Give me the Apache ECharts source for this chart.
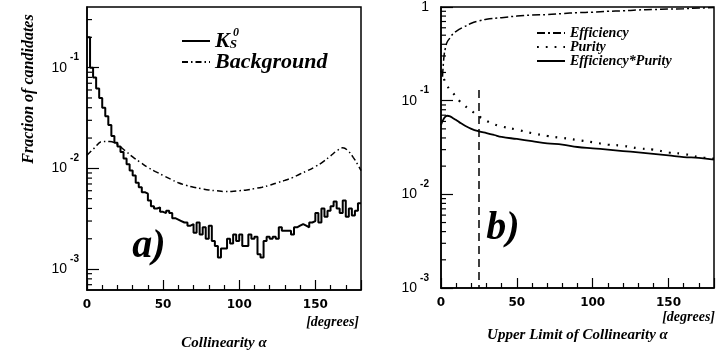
<!DOCTYPE html>
<html>
<head>
<meta charset="utf-8">
<script src="https://cdn.jsdelivr.net/npm/echarts@6/dist/echarts.min.js"></script>
<style>
  html, body { margin: 0; padding: 0; background: #fff; }
  #main { width: 723px; height: 357px; }
</style>
</head>
<body>
<div id="main"></div>
<script>
// panel a) K0S histogram, 2 degree bins starting at 0
var binWidth = 2
var kBins = [
    0.20, 0.10, 0.080, 0.062, 0.050, 0.040, 0.033, 0.027, 0.021, 0.018,
    0.0165, 0.0145, 0.0125, 0.011, 0.0095, 0.0085, 0.0072, 0.0065, 0.0058, 0.0056,
    0.0048, 0.0042, 0.0040, 0.0041, 0.0037, 0.0036, 0.0038, 0.0036, 0.0032, 0.0031,
    0.0030, 0.0029, 0.0029, 0.0027, 0.0028, 0.0023, 0.0029, 0.0022, 0.0026, 0.0020,
    0.0027, 0.0019, 0.0017, 0.0013, 0.0016, 0.0016, 0.0020, 0.0018, 0.0022, 0.0019,
    0.0022, 0.0017, 0.0017, 0.0022, 0.0020, 0.0021, 0.0014, 0.0013, 0.0019, 0.0021,
    0.0020, 0.0021, 0.0020, 0.0026, 0.0024, 0.0024, 0.0024, 0.0022, 0.0026, 0.0027,
    0.0028, 0.0027, 0.0026, 0.0029, 0.0030, 0.0036, 0.0029, 0.0040, 0.0033, 0.0038,
    0.0042, 0.0047, 0.0040, 0.0036, 0.0048, 0.0033, 0.0040, 0.0034, 0.0038, 0.0045
]

// panel a) background, smooth curve
var bgAngles = [0, 5, 10, 15, 20, 25, 30, 35, 40, 45, 50, 55, 60, 65, 70, 75, 80, 85, 90,
    95, 100, 105, 110, 115, 120, 125, 130, 135, 140, 145, 150, 155, 160, 165, 168, 171, 175, 178, 180]
var bgValues = [0.0135, 0.016, 0.0185, 0.0185, 0.0172, 0.0150, 0.0130, 0.0115, 0.0102, 0.0093,
    0.0085, 0.0078, 0.0072, 0.0068, 0.0065, 0.0063, 0.0061, 0.0060, 0.0059,
    0.0059, 0.0060, 0.0061, 0.0063, 0.0065, 0.0068, 0.0072, 0.0076, 0.0081, 0.0088,
    0.0095, 0.0104, 0.0116, 0.0133, 0.0153, 0.0160, 0.0152, 0.0128, 0.0108, 0.0095]

// panel b)
var effAngles = [1, 2, 3, 4, 6, 8, 10, 14, 20, 25, 30, 40, 50, 60, 70, 80, 90, 100, 110, 120, 130, 140, 150, 160, 170, 180]
var effValues = [0.18, 0.30, 0.37, 0.42, 0.47, 0.52, 0.55, 0.60, 0.67, 0.71, 0.74, 0.77, 0.80, 0.82,
    0.83, 0.85, 0.87, 0.88, 0.90, 0.91, 0.93, 0.94, 0.95, 0.96, 0.975, 0.985]

var purAngles = [0, 2, 4, 6, 8, 10, 12, 15, 20, 25, 30, 35, 40, 50, 60, 70, 80, 90, 100, 110, 120, 130, 140, 150, 160, 170, 180]
var purValues = [0.21, 0.17, 0.145, 0.13, 0.12, 0.11, 0.10, 0.090, 0.078, 0.068, 0.061, 0.056, 0.053,
    0.049, 0.045, 0.042, 0.040, 0.038, 0.036, 0.034, 0.033, 0.031, 0.030, 0.028, 0.027, 0.025, 0.024]

var epAngles = [0, 2, 4, 6, 8, 10, 12, 15, 20, 25, 30, 35, 40, 50, 60, 70, 80, 90, 100, 110, 120, 130, 140, 150, 160, 170, 180]
var epValues = [0.055, 0.065, 0.069, 0.068, 0.065, 0.062, 0.059, 0.055, 0.050, 0.047, 0.045, 0.043, 0.041,
    0.039, 0.037, 0.035, 0.034, 0.032, 0.031, 0.030, 0.029, 0.028, 0.027, 0.026, 0.025, 0.0245, 0.0235]

var cutAngle = 25
var cutTop = 0.13

function zip(xs, ys) {
    return xs.map((x, i) => [x, ys[i]])
}

function histData(bins, width) {
    let result = bins.map((v, i) => [i * width, v])
    result.push([bins.length * width, bins[bins.length - 1]])
    return result
}

// minor ticks at 2..9 x 10^n, log axes do not give these
function minorTickValues(lo, hi) {
    let result = []
    for (let e = Math.floor(Math.log10(lo)); e <= Math.ceil(Math.log10(hi)); e++) {
        for (let k = 2; k <= 9; k++) {
            let v = k * Math.pow(10, e)
            if (v > lo && v < hi) result.push([0, v])
        }
    }
    return result
}

const serif = '"Liberation Serif", "DejaVu Serif", serif'
const sans = '"DejaVu Sans", sans-serif'

function powLabel(v) {
    let e = Math.round(Math.log10(v))
    if (e === 0) return '{b|1}'
    return '{b|10}{s|' + e + '}'
}

const labelRich = {
    b: {fontFamily: '"Liberation Sans", sans-serif', fontSize: 14, lineHeight: 30, verticalAlign: 'middle', color: '#000'},
    s: {fontFamily: '"Liberation Sans", sans-serif', fontWeight: 'bold', fontSize: 10, lineHeight: 12, verticalAlign: 'top', color: '#000', padding: [0, 0, 0, 3]}
}

function makeXAxis(gridIndex, name, gap) {
    return {
        type: 'value', gridIndex: gridIndex, min: 0, max: 180, interval: 50,
        name: name, nameLocation: 'middle', nameGap: gap,
        nameTextStyle: {fontFamily: serif, fontStyle: 'italic', fontWeight: 'bold', fontSize: 15, color: '#000'},
        axisLine: {show: true, lineStyle: {color: '#000', width: 1.5}},
        axisTick: {show: true, inside: true, length: 10, lineStyle: {color: '#000', width: 1.2}},
        minorTick: {show: true, splitNumber: 5, length: 5, lineStyle: {color: '#000', width: 1.2}},
        splitLine: {show: false},
        axisLabel: {fontFamily: sans, fontWeight: 'bold', fontSize: 12, color: '#000', margin: 9, showMaxLabel: false}
    }
}

function makeYAxis(gridIndex, min, max, margin) {
    return {
        type: 'log', gridIndex: gridIndex, min: min, max: max, logBase: 10,
        axisLine: {show: true, lineStyle: {color: '#000', width: 1.5}},
        axisTick: {show: true, inside: true, length: 12, lineStyle: {color: '#000', width: 1.2}},
        minorTick: {show: false},
        splitLine: {show: false},
        axisLabel: {
            margin: margin, showMinLabel: min === 0.001, showMaxLabel: max === 1,
            formatter: powLabel, rich: labelRich
        }
    }
}

function tickRenderer(params, api) {
    const p = api.coord([api.value(0), api.value(1)])
    return {
        type: 'line',
        shape: {x1: p[0], y1: p[1], x2: p[0] + 5, y2: p[1]},
        style: {stroke: '#000', lineWidth: 1.2}
    }
}

const legendText = {fontFamily: serif, fontStyle: 'italic', fontWeight: 'bold', color: '#000'}

var chartDom = document.getElementById('main');
var myChart = echarts.init(chartDom, null, {renderer: 'canvas'});

var option = {
    backgroundColor: '#fff',
    animation: false,
    grid: [
        {left: 87, top: 7, width: 274, height: 283, show: true, borderColor: '#000', borderWidth: 1.5, backgroundColor: 'transparent'},
        {left: 441, top: 6, width: 273, height: 282, show: true, borderColor: '#000', borderWidth: 1.5, backgroundColor: 'transparent'}
    ],
    xAxis: [
        makeXAxis(0, 'Collinearity α', 46),
        makeXAxis(1, 'Upper Limit of Collinearity α', 40)
    ],
    yAxis: [
        makeYAxis(0, 0.00062, 0.4, 8),
        makeYAxis(1, 0.001, 1, 12)
    ],
    legend: [
        {
            data: ['K0S', 'Background'],
            orient: 'vertical', left: 176, top: 25, itemWidth: 28, itemHeight: 10, itemGap: -1,
            itemStyle: {opacity: 0},
            formatter: function (name) {
                if (name === 'K0S') return '{k|K}{s|S}'
                return '{k|' + name + '}'
            },
            textStyle: {
                ...legendText, fontSize: 22,
                rich: {
                    k: {...legendText, fontSize: 22, lineHeight: 20, verticalAlign: 'middle'},
                    s: {...legendText, fontSize: 13, lineHeight: 12, verticalAlign: 'bottom', padding: [8, 0, 0, 0]}
                }
            }
        },
        {
            data: ['Efficiency', 'Purity', 'Efficiency*Purity'],
            orient: 'vertical', left: 531, top: 21, itemWidth: 28, itemHeight: 8, itemGap: 0,
            itemStyle: {opacity: 0},
            textStyle: {...legendText, fontSize: 14, lineHeight: 12}
        }
    ],
    graphic: [
        {type: 'text', left: 233, top: 27, style: {text: '0', font: 'italic bold 12px ' + serif, fill: '#000'}},
        {type: 'text', x: 29, y: 89, rotation: Math.PI / 2,
            style: {text: 'Fraction of candidates', font: 'italic bold 16px ' + serif, fill: '#000', align: 'center', verticalAlign: 'middle'}},
        {type: 'text', right: 364, top: 315, style: {text: '[degrees]', font: 'italic bold 14px ' + serif, fill: '#000'}},
        {type: 'text', right: 8, top: 310, style: {text: '[degrees]', font: 'italic bold 14px ' + serif, fill: '#000'}},
        {type: 'text', x: 149, y: 247, style: {text: 'a)', font: 'italic bold 40px ' + serif, fill: '#000', align: 'center', verticalAlign: 'middle'}},
        {type: 'text', x: 503, y: 229, style: {text: 'b)', font: 'italic bold 40px ' + serif, fill: '#000', align: 'center', verticalAlign: 'middle'}}
    ],
    series: [
        {
            name: 'K0S', type: 'line', xAxisIndex: 0, yAxisIndex: 0, step: 'end',
            data: histData(kBins, binWidth), symbol: 'none', color: '#000',
            lineStyle: {color: '#000', width: 2}
        },
        {
            name: 'Background', type: 'line', xAxisIndex: 0, yAxisIndex: 0, smooth: 0.4,
            data: zip(bgAngles, bgValues), symbol: 'none', color: '#000',
            lineStyle: {color: '#000', width: 1.5, type: [6, 3, 1.5, 3]}
        },
        {
            name: 'Efficiency', type: 'line', xAxisIndex: 1, yAxisIndex: 1, smooth: 0.4,
            data: zip(effAngles, effValues), symbol: 'none', color: '#000',
            lineStyle: {color: '#000', width: 1.5, type: [8, 3, 2, 3]}
        },
        {
            name: 'Purity', type: 'line', xAxisIndex: 1, yAxisIndex: 1, smooth: 0.4,
            data: zip(purAngles, purValues), symbol: 'none', color: '#000',
            lineStyle: {color: '#000', width: 2.2, type: [1.8, 7]}
        },
        {
            name: 'Efficiency*Purity', type: 'line', xAxisIndex: 1, yAxisIndex: 1, smooth: 0.4,
            data: zip(epAngles, epValues), symbol: 'none', color: '#000',
            lineStyle: {color: '#000', width: 1.8},
            markLine: {
                silent: true, symbol: 'none', label: {show: false},
                lineStyle: {color: '#000', width: 1.5, type: [8, 5]},
                data: [[{coord: [cutAngle, cutTop]}, {coord: [cutAngle, 0.001]}]]
            }
        },
        {
            type: 'custom', xAxisIndex: 0, yAxisIndex: 0, silent: true,
            data: minorTickValues(0.00062, 0.4), renderItem: tickRenderer
        },
        {
            type: 'custom', xAxisIndex: 1, yAxisIndex: 1, silent: true,
            data: minorTickValues(0.001, 1), renderItem: tickRenderer
        }
    ]
};
option && myChart.setOption(option);
</script>
</body>
</html>
